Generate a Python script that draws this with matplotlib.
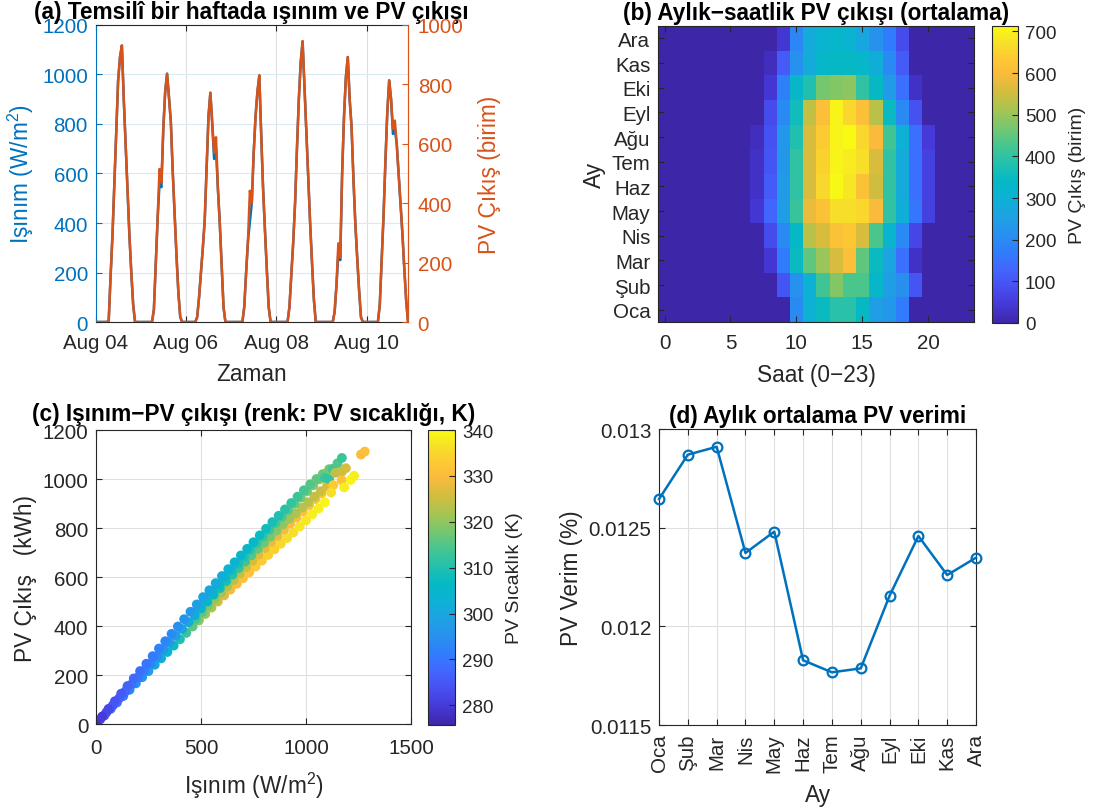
import numpy as np
import pandas as pd
import matplotlib
matplotlib.use('Agg')
import matplotlib.pyplot as plt
import matplotlib.dates as mdates
from matplotlib.colors import LinearSegmentedColormap

plt.rcParams['font.family'] = ['Liberation Sans', 'DejaVu Sans']
plt.rcParams['mathtext.fontset'] = 'custom'
plt.rcParams['mathtext.rm'] = 'Liberation Sans'
plt.rcParams['mathtext.it'] = 'Liberation Sans:italic'
plt.rcParams['mathtext.bf'] = 'Liberation Sans:bold'

#----- data: (a) one week, hourly (Aug 04 .. Aug 10)
irr_d1 = [0,0,0,0,0,0, 0,5,185,350,560,780,975,1070,1117,900,720,530,350,200,70,0, 0,0]
irr_d2 = [0,0,0,0,0,0, 0,50,230,420,560,545,780,930,1003,910,810,610,440,270,120,20, 0,0]
irr_d3 = [0,0,0,0,0,0, 20,100,200,300,410,620,830,926,800,659,700,540,400,230,60,0, 0,0]
irr_d4 = [0,0,0,0,0,0, 0,60,200,330,405,480,680,830,930,996,760,540,370,210,60,0, 0,0]
irr_d5 = [0,0,0,0,0,0, 0,60,190,320,480,700,900,1050,1134,950,770,580,400,240,90,0, 0,0]
irr_d6 = [0,0,0,0,0,0, 0,40,150,280,250,600,830,990,1070,900,790,580,400,260,130,20, 0,0]
irr_d7 = [0,0,0,0,0,0, 0,70,250,430,650,850,976,900,760,780,720,600,480,360,220,90, 0,0]

pv_d1 = [0,0,0,0,0,0, 0,4,154,292,467,650,812,892,931,750,600,442,292,167,58,0, 0,0]
pv_d2 = [0,0,0,0,0,0, 0,42,192,350,515,470,650,775,836,758,675,508,367,225,100,17, 0,0]
pv_d3 = [0,0,0,0,0,0, 17,83,167,250,342,517,692,772,672,570,622,450,333,192,50,0, 0,0]
pv_d4 = [0,0,0,0,0,0, 0,50,167,275,442,400,567,692,775,830,633,450,308,175,50,0, 0,0]
pv_d5 = [0,0,0,0,0,0, 0,50,158,267,400,583,750,875,945,792,642,483,333,200,75,0, 0,0]
pv_d6 = [0,0,0,0,0,0, 0,33,125,265,218,500,692,825,892,750,658,483,333,217,108,17, 0,0]
pv_d7 = [0,0,0,0,0,0, 0,58,208,358,542,708,813,750,650,678,600,500,400,300,183,75, 0,0]

#----- data: (b) month x hour mean PV output
months = ['Oca', 'Şub', 'Mar', 'Nis', 'May', 'Haz', 'Tem', 'Ağu', 'Eyl', 'Eki', 'Kas', 'Ara']
hours = list(range(24))
pv_oca = [0,0,0,0,0,0,0,0,0,0,200,300,350,390,390,340,250,230,170,0,0,0,0,0]
pv_sub = [0,0,0,0,0,0,0,0,0,100,220,300,420,480,430,430,330,250,210,100,0,0,0,0]
pv_mar = [0,0,0,0,0,0,0,0,40,170,350,450,500,560,610,450,350,260,150,30,0,0,0,0]
pv_nis = [0,0,0,0,0,0,0,0,80,200,340,530,560,620,630,560,430,320,200,70,0,0,0,0]
pv_may = [0,0,0,0,0,0,0,40,130,250,410,580,620,670,670,660,600,400,290,160,60,0,0,0]
pv_haz = [0,0,0,0,0,0,0,30,110,240,400,560,660,710,680,620,550,400,280,150,60,0,0,0]
pv_tem = [0,0,0,0,0,0,0,30,100,230,400,560,650,700,690,670,560,400,280,150,60,0,0,0]
pv_agu = [0,0,0,0,0,0,0,20,90,230,380,560,640,700,713,660,600,420,300,150,50,0,0,0]
pv_eyl = [0,0,0,0,0,0,0,0,80,200,360,540,610,700,660,610,530,350,200,90,0,0,0,0]
pv_eki = [0,0,0,0,0,0,0,0,40,180,330,380,470,480,490,400,340,240,150,30,0,0,0,0]
pv_kas = [0,0,0,0,0,0,0,0,20,110,220,280,330,340,340,330,290,200,110,0,0,0,0,0]
pv_ara = [0,0,0,0,0,0,0,0,0,40,190,280,310,330,310,270,220,170,80,0,0,0,0,0]

#----- data: (c) irradiance vs PV output, coloured by PV temperature (K)
u_irr = [0,30,60,90,120,150,180,210,240,270,300,330,360,390,420,450,480,510,540,570,600,630,660,690,720,750,780,810,840,870,900,930,960,990,1020,1050,1080,1110]
u_pv = [0,31,62,93,124,155,186,216,246,277,308,338,368,398,428,458,488,518,546,575,604,632,660,688,715,742,770,797,824,850,876,902,928,954,978,1000,1020,1040]
u_t = [278,280,282,284,285,287,288,289,290,291,292,293,294,295,296,297,298,299,300,301,302,303,304,305,306,306,307,308,309,310,311,312,313,314,315,316,317,318]

um_irr = [465,495,525,555,585,615,645,675,705,735,765,795,825,855,885,915,945,975,1005,1035,1065]
um_pv = [456,485,514,542,571,599,627,655,683,711,738,765,793,820,846,873,899,924,950,975,999]
um_t = [302,303,304,305,306,307,308,309,310,311,312,313,313,314,315,316,317,318,318,319,320]

m_irr = [20,50,80,110,140,170,200,230,260,290,320,350,380,410,440,470,500,530,560,590,620,650,680,710,740,770,800,830,860,890,920,950,980,1010,1040,1070,1100]
m_pv = [19,48,76,105,133,162,190,218,247,275,304,332,360,388,416,444,472,500,528,555,583,610,637,663,689,715,740,765,790,815,838,860,883,905,928,950,970]
m_t = [281,283,285,287,288,290,291,292,293,294,296,297,298,299,301,302,304,305,306,308,309,311,312,313,315,316,317,318,319,320,321,322,323,323,324,325,326]

ml_irr = [475,505,535,565,595,625,655,685,715,745,775,805,835,865,895,925,955,985,1015,1045,1075]
ml_pv = [429,456,483,510,536,562,588,614,640,666,692,718,743,768,793,818,843,868,893,918,942]
ml_t = [314,316,318,320,321,322,323,324,325,326,327,327,328,328,329,330,330,331,331,332,332]

l_irr = [40,70,100,130,160,190,220,250,280,310,340,370,400,430,460,490,520,550,580,610,640,670,700,730,760,790,820,850,880,910,940,970,1000,1030,1060,1090]
l_pv = [35,62,88,114,140,166,191,216,242,268,294,320,346,372,398,423,449,475,500,525,549,572,595,619,643,667,690,713,736,759,782,806,831,856,880,905]
l_t = [285,287,289,291,293,295,296,298,300,302,304,307,310,313,316,319,321,323,325,327,329,330,331,332,333,333,334,334,335,336,336,337,337,338,338,339]

o_irr = [1090,1110,1126,1150,1171,1140,1171,1190,1130,1170,1182,1213,1229,1262,1280,1120]
o_pv = [1005,1000,1041,1064,1086,1025,1030,1044,975,995,966,996,1013,1100,1112,945]
o_t = [313,312,314,315,313,324,325,326,333,331,338,339,338,330,331,336]

#----- data: (d) monthly mean PV efficiency
eff = [0.012645, 0.01287, 0.01291, 0.012372, 0.01248, 0.011828,
       0.011767, 0.011787, 0.012155, 0.012458, 0.01226, 0.012348]

#----- style
INK = '#262626'
BLUE = '#0072BD'
ORANGE = '#D95319'
GRID = '#DFDFDF'
TICK_FS = 14.8
LAB_FS = 16.3
TITLE_FS = 16.3

# parula-like colormap
parula = LinearSegmentedColormap.from_list('parula', [
    (0.00, (0.2422, 0.1504, 0.6603)),
    (0.06, (0.2700, 0.2200, 0.8400)),
    (0.12, (0.2800, 0.3100, 0.9450)),
    (0.18, (0.2600, 0.4000, 0.9950)),
    (0.24, (0.1900, 0.4900, 0.9900)),
    (0.30, (0.1550, 0.5700, 0.9350)),
    (0.36, (0.1150, 0.6350, 0.8900)),
    (0.42, (0.0500, 0.6950, 0.8300)),
    (0.48, (0.0200, 0.7250, 0.7700)),
    (0.54, (0.1400, 0.7550, 0.6800)),
    (0.60, (0.2800, 0.7750, 0.5600)),
    (0.66, (0.4700, 0.7800, 0.4300)),
    (0.72, (0.6600, 0.7700, 0.3200)),
    (0.78, (0.8300, 0.7400, 0.2400)),
    (0.84, (0.9800, 0.7300, 0.2400)),
    (0.89, (0.9950, 0.7850, 0.2050)),
    (0.94, (0.9700, 0.8700, 0.1600)),
    (1.00, (0.9769, 0.9839, 0.0805))])


def box(ax, xpad=8, ypad=5.5):
    ax.tick_params(direction='in', length=4, width=0.8, colors=INK,
                   labelsize=TICK_FS, top=True, right=True)
    ax.tick_params(axis='x', pad=xpad)
    ax.tick_params(axis='y', pad=ypad)
    for s in ax.spines.values():
        s.set_color(INK)
        s.set_linewidth(0.8)


fig = plt.figure(figsize=(10.98, 8.12), dpi=100)

#----- (a) week time series, two y axes
t = pd.date_range('2023-08-04 00:00', periods=168, freq='h')
irr_week = irr_d1 + irr_d2 + irr_d3 + irr_d4 + irr_d5 + irr_d6 + irr_d7
pv_week = pv_d1 + pv_d2 + pv_d3 + pv_d4 + pv_d5 + pv_d6 + pv_d7

ax1 = fig.add_axes([0.0870, 0.6022, 0.2846, 0.3658])
box(ax1)
ax1.plot(t, irr_week, color=BLUE, lw=1.8)
ax1.set_ylim(0, 1200)
ax1.set_yticks(range(0, 1201, 200))
ax1.set_xlim(t[0], t[166])
ax1.xaxis.set_major_locator(mdates.DayLocator(bymonthday=[4, 6, 8, 10]))
ax1.xaxis.set_major_formatter(mdates.DateFormatter('%b %d'))
ax1.grid(axis='x', color=GRID, lw=0.8)
ax1.grid(axis='y', color='#D9EAF4', lw=0.8)
ax1.set_axisbelow(True)
ax1.tick_params(axis='y', colors=BLUE, right=False)
ax1.tick_params(axis='x', colors=INK)
ax1.spines['left'].set_color(BLUE)
ax1.spines['right'].set_color(ORANGE)
ax1.set_xlabel('Zaman', fontsize=LAB_FS, color=INK, labelpad=7)
ax1.set_ylabel('Işınım (W/m$^2$)', fontsize=LAB_FS, color=BLUE)
ax1.set_title('(a) Temsilî bir haftada ışınım ve PV çıkışı',
              fontsize=TITLE_FS, fontweight='bold', pad=5)

ax2 = ax1.twinx()
ax2.plot(t, pv_week, color=ORANGE, lw=1.8)
ax2.set_ylim(0, 1000)
ax2.set_yticks(range(0, 1001, 200))
ax2.tick_params(axis='y', direction='in', length=4, width=0.8, colors=ORANGE,
                labelsize=TICK_FS, pad=7)
for side in ['left', 'top', 'bottom']:
    ax2.spines[side].set_visible(False)
ax2.spines['right'].set_color(ORANGE)
ax2.spines['right'].set_linewidth(0.8)
ax2.set_ylabel('PV Çıkış (birim)', fontsize=LAB_FS, color=ORANGE, labelpad=10)

#----- (b) month x hour heatmap
grid_vals = np.array([pv_oca, pv_sub, pv_mar, pv_nis, pv_may, pv_haz,
                      pv_tem, pv_agu, pv_eyl, pv_eki, pv_kas, pv_ara])
ax3 = fig.add_axes([0.5993, 0.6022, 0.2878, 0.3645])
box(ax3)
im = ax3.imshow(grid_vals, cmap=parula, origin='lower', aspect='auto',
                interpolation='nearest', extent=(-0.5, 23.5, 0.5, 12.5))
ax3.set_xticks([0, 5, 10, 15, 20])
ax3.set_yticks(range(1, 13))
ax3.set_yticklabels(months)
ax3.set_xlabel('Saat (0−23)', fontsize=LAB_FS, color=INK, labelpad=8)
ax3.set_ylabel('Ay', fontsize=LAB_FS, color=INK)
ax3.set_title('(b) Aylık−saatlik PV çıkışı (ortalama)',
              fontsize=TITLE_FS, fontweight='bold', pad=5)
cax3 = fig.add_axes([0.9035, 0.6010, 0.0237, 0.3658])
cb3 = fig.colorbar(im, cax=cax3)
cb3.set_ticks(range(0, 701, 100))
cb3.ax.tick_params(direction='in', length=4, width=0.8, colors=INK,
                   labelsize=13.5, pad=5)
cb3.outline.set_edgecolor(INK)
cb3.outline.set_linewidth(0.8)
cb3.set_label('PV Çıkış (birim)', fontsize=14, color=INK, labelpad=9)

#----- (c) scatter
sc_irr = l_irr + ml_irr + m_irr + um_irr + u_irr + o_irr
sc_pv = l_pv + ml_pv + m_pv + um_pv + u_pv + o_pv
sc_t = l_t + ml_t + m_t + um_t + u_t + o_t

ax5 = fig.add_axes([0.0874, 0.1071, 0.2869, 0.3621])
box(ax5, xpad=10)
sc = ax5.scatter(sc_irr, sc_pv, c=sc_t, cmap=parula, vmin=275.7, vmax=340,
                 s=50, edgecolors='none')
ax5.set_xlim(0, 1500)
ax5.set_ylim(0, 1200)
ax5.set_xticks([0, 500, 1000, 1500])
ax5.set_yticks(range(0, 1201, 200))
ax5.grid(color=GRID, lw=0.8)
ax5.set_axisbelow(True)
ax5.set_xlabel('Işınım (W/m$^2$)', fontsize=LAB_FS, color=INK, labelpad=9)
ax5.set_ylabel('PV Çıkış   (kWh)', fontsize=LAB_FS, color=INK)
ax5.set_title('(c) Işınım−PV çıkışı (renk: PV sıcaklığı, K)',
              fontsize=TITLE_FS, fontweight='bold', pad=7)
cax5 = fig.add_axes([0.3898, 0.1059, 0.0246, 0.3633])
cb5 = fig.colorbar(sc, cax=cax5)
cb5.set_ticks(range(280, 341, 10))
cb5.ax.tick_params(direction='in', length=4, width=0.8, colors=INK,
                   labelsize=13.5, pad=5)
cb5.outline.set_edgecolor(INK)
cb5.outline.set_linewidth(0.8)
cb5.set_label('PV Sıcaklık (K)', fontsize=14, color=INK, labelpad=9)

#----- (d) monthly efficiency
ax7 = fig.add_axes([0.6002, 0.1059, 0.2887, 0.3645])
box(ax7, xpad=6)
ax7.plot(range(1, 13), eff, '-o', color=BLUE, lw=1.8, ms=7, mfc='none',
         mew=1.6, clip_on=False, zorder=3)
ax7.set_xlim(1, 12)
ax7.set_ylim(0.0115, 0.013)
ax7.set_yticks([0.0115, 0.012, 0.0125, 0.013])
ax7.set_yticklabels(['0.0115', '0.012', '0.0125', '0.013'])
ax7.set_xticks(range(1, 13))
ax7.set_xticklabels(months, rotation=90)
ax7.grid(color=GRID, lw=0.8)
ax7.set_axisbelow(True)
ax7.set_xlabel('Ay', fontsize=LAB_FS, color=INK, labelpad=8)
ax7.set_ylabel('PV Verim (%)', fontsize=LAB_FS, color=INK)
ax7.set_title('(d) Aylık ortalama PV verimi',
              fontsize=TITLE_FS, fontweight='bold', pad=5)

plt.savefig('out.png', dpi=100)
